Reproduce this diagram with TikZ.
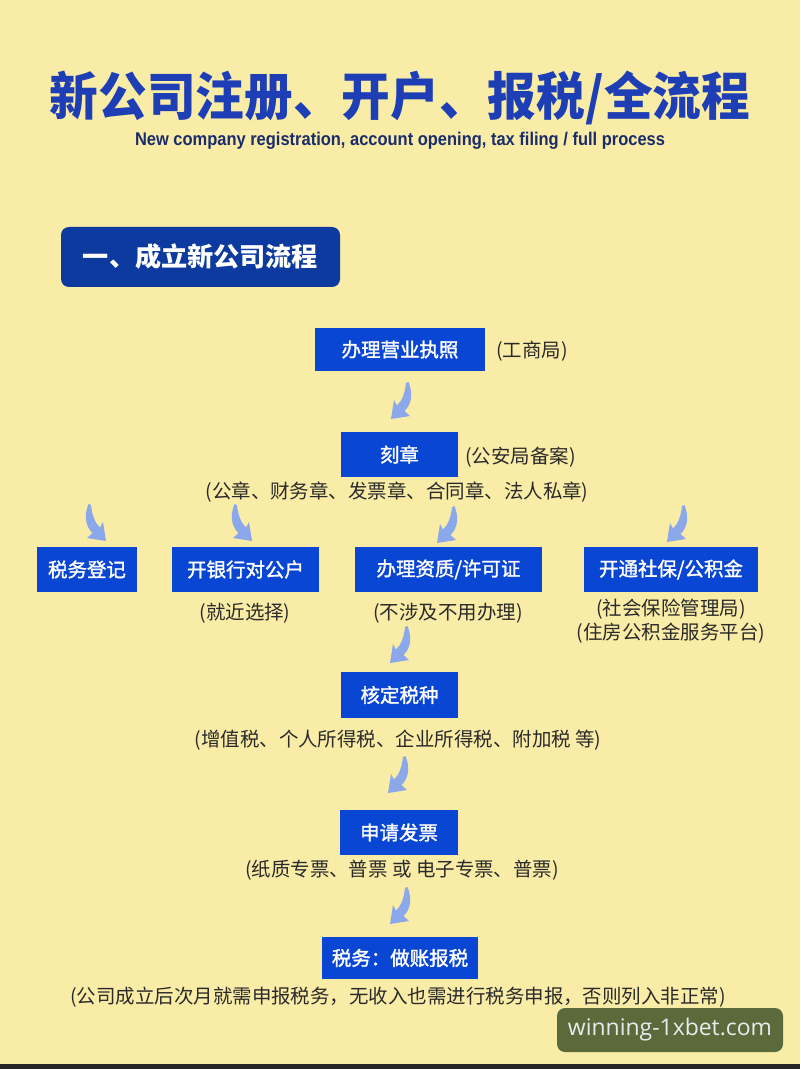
\documentclass[tikz,border=0pt]{standalone}
\usepackage{graphicx}
\usepackage{fontspec}
\newfontfamily\cjk{Noto Sans CJK SC}
\newfontfamily\cjkm[FakeBold=1.6]{Noto Sans CJK SC}
\newfontfamily\lib{Liberation Sans}
\newfontfamily\osans{Open Sans}
\definecolor{bg}{HTML}{F9ECA7}
\definecolor{boxblue}{HTML}{0A46D4}
\definecolor{hdrblue}{HTML}{0C3A9E}
\definecolor{titleblue}{HTML}{1E3EB5}
\definecolor{subblue}{HTML}{1B2C6B}
\definecolor{arrowblue}{HTML}{8AA8EA}
\definecolor{labelgray}{HTML}{2A2A2A}
\definecolor{wmgreen}{HTML}{5A6A3B}
\definecolor{wmtext}{HTML}{E6ECEE}
\begin{document}
\begin{tikzpicture}[x=0.75pt,y=-0.75pt,
  stepbox/.style={fill=boxblue, text=white, font=\cjkm\fontsize{14.6pt}{17pt}\selectfont, inner sep=0pt, minimum height=45*0.75pt},
  note/.style={text=labelgray, font=\cjk\fontsize{14.6pt}{18pt}\selectfont, inner sep=0pt},
  carrow/.pic={\fill[arrowblue] (0,0) -- (19,-3) -- (13.5,-8) .. controls (21,-15) and (22,-26) .. (17.5,-37) -- (15,-36) .. controls (14,-26) and (11,-18) .. (6,-13.5) -- (3,-19) -- cycle;}
]
\useasboundingbox (0,0) rectangle (800,1069);
\fill[bg] (0,0) rectangle (800,1069);
\fill[black!85] (0,1064) rectangle (800,1069);

\node[text=titleblue, font=\cjk\bfseries\fontsize{36.5pt}{40pt}\selectfont, inner sep=0pt] (title) at (400,98) {\scalebox{1}[1.06]{新公司注册、开户、报税/全流程}};
\node[text=subblue, inner sep=0pt] (sub) at (400,141) {\resizebox{397.5pt}{10pt}{\lib\bfseries New company registration, account opening, tax filing / full process}};

\node[fill=hdrblue, rounded corners=6pt, minimum width=279*0.75pt, minimum height=60*0.75pt, inner sep=0pt, text=white, font=\cjk\bfseries\fontsize{19.6pt}{22pt}\selectfont] (hdr) at (200.5,257) {一、成立新公司流程};

\node[stepbox, minimum width=170*0.75pt, minimum height=43*0.75pt] (yyzz) at (400,349.5) {办理营业执照};
\node[note, anchor=west] (gsj) at (496,351) {(工商局)};
\node[stepbox, minimum width=117*0.75pt] (kz) at (399.5,454.5) {刻章};
\node[note, anchor=west] (gaj) at (465,457) {(公安局备案)};
\node[note] (zhang) at (397,492) {(公章、财务章、发票章、合同章、法人私章)};
\node[stepbox, minimum width=100*0.75pt] (swdj) at (87,569.5) {税务登记};
\node[stepbox, minimum width=147*0.75pt] (yh) at (245.5,569.5) {开银行对公户};
\node[note] (jj) at (245,613) {(就近选择)};
\node[stepbox, minimum width=187*0.75pt] (zz) at (448.5,569.5) {办理资质/许可证};
\node[note] (bsj) at (448,613) {(不涉及不用办理)};
\node[stepbox, minimum width=174*0.75pt] (sb) at (671,569.5) {开通社保/公积金};
\node[note] (sbj) at (671,609) {(社会保险管理局)};
\node[note] (gjj) at (671,633) {(住房公积金服务平台)};
\node[stepbox, minimum width=117*0.75pt, minimum height=46*0.75pt] (hd) at (399.5,695) {核定税种};
\node[note] (sz) at (398,740) {(增值税、个人所得税、企业所得税、附加税 等)};
\node[stepbox, minimum width=118*0.75pt] (fp) at (399,832.5) {申请发票};
\node[note] (fpz) at (402,870) {(纸质专票、普票 或 电子专票、普票)};
\node[stepbox, minimum width=156*0.75pt, minimum height=42*0.75pt] (bs) at (400,958) {税务：做账报税};
\node[note] (bsz) at (398,997) {(公司成立后次月就需申报税务，无收入也需进行税务申报，否则列入非正常)};

\pic at (391,419) {carrow};
\pic[xscale=-1] at (106,541) {carrow};
\pic[xscale=-1] at (252,541) {carrow};
\pic at (437,543) {carrow};
\pic at (667,542) {carrow};
\pic at (390,663) {carrow};
\pic at (388,793) {carrow};
\pic at (390,924) {carrow};

\node[fill=wmgreen, rounded corners=6pt, minimum width=226*0.75pt, minimum height=44*0.75pt, inner sep=0pt] (wm) at (670,1030) {\resizebox{153pt}{!}{\osans\color{wmtext}winning-1xbet.com}};
\end{tikzpicture}
\end{document}
